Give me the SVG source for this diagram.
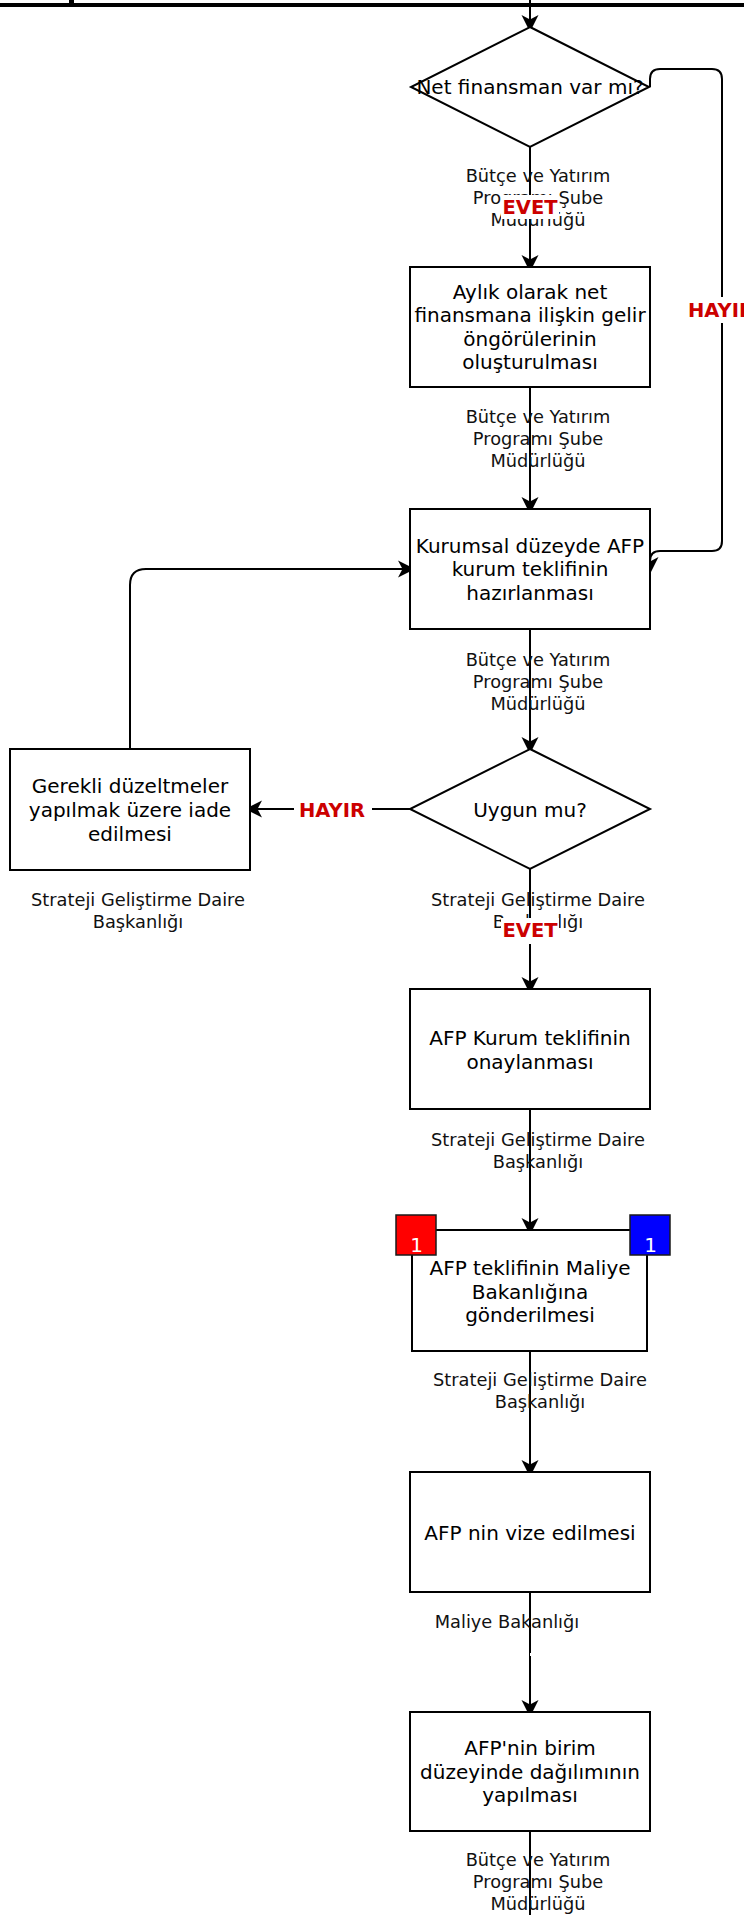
<svg xmlns="http://www.w3.org/2000/svg" width="744" height="1915" viewBox="0 0 744 1915">
<style>
.shape{fill:#fff;stroke:#000;stroke-width:2}
.t{font-family:"DejaVu Sans","Liberation Sans",sans-serif;font-size:20px;fill:#000;text-anchor:middle}
.el{font-family:"DejaVu Sans","Liberation Sans",sans-serif;font-size:17.8px;fill:#111;text-anchor:middle}
.lb{font-family:"DejaVu Sans","Liberation Sans",sans-serif;font-size:19.5px;font-weight:bold;fill:#CC0000;text-anchor:middle}
.conn{fill:none;stroke:#000;stroke-width:2;marker-end:url(#arr)}
.bg{fill:#fff}
.num{font-family:"DejaVu Sans","Liberation Sans",sans-serif;font-size:20px;fill:#fff;text-anchor:middle}
</style>
<defs>
<marker id="arr" markerUnits="userSpaceOnUse" viewBox="-13 -10 20 20" markerWidth="20" markerHeight="20" refX="-5" refY="0" orient="auto">
<path d="M5,0 L-12,-8.5 L-7.5,0 L-12,8.5 Z" fill="#000"/>
</marker>
</defs>
<rect x="0" y="0" width="744" height="1915" fill="#fff"/>
<rect x="0" y="3" width="744" height="4" fill="#000"/>
<rect x="69" y="0" width="5" height="3" fill="#000"/>

<g id="connectors">
<path class="conn" d="M530,0 L530,22"/>
<path class="conn" d="M530,147 L530,262"/>
<path class="conn" d="M530,387 L530,504"/>
<path class="conn" d="M530,629 L530,744"/>
<path class="conn" d="M410,809 L255,809"/>
<path class="conn" d="M130,749 L130,585 Q130,569 146,569 L405,569"/>
<path class="conn" d="M530,869 L530,984"/>
<path class="conn" d="M530,1109 L530,1225"/>
<path class="conn" d="M530,1351 L530,1467"/>
<path class="conn" d="M530,1592 L530,1707"/>
<path fill="none" stroke="#000" stroke-width="2" d="M530,1831 L530,1915"/>
<path class="conn" d="M650,87 L650,79 Q650,69 660,69 L712,69 Q722,69 722,79 L722,541 Q722,551 712,551 L660,551 Q650,551 650,561 L650,564"/>
<rect class="bg" x="530" y="1653" width="2" height="3"/>
<g id="edge-labels">
<text class="el" x="538" y="182">Bütçe ve Yatırım</text>
<text class="el" x="538" y="204">Programı Şube</text>
<text class="el" x="538" y="226">Müdürlüğü</text>
<rect class="bg" x="501" y="195" width="58" height="24"/>
<text class="lb" x="530" y="214">EVET</text>

<rect class="bg" x="686" y="297" width="70" height="26"/>
<text class="lb" x="721" y="317">HAYIR</text>

<text class="el" x="538" y="423">Bütçe ve Yatırım</text>
<text class="el" x="538" y="445">Programı Şube</text>
<text class="el" x="538" y="467">Müdürlüğü</text>

<text class="el" x="538" y="665.5">Bütçe ve Yatırım</text>
<text class="el" x="538" y="687.5">Programı Şube</text>
<text class="el" x="538" y="709.5">Müdürlüğü</text>

<rect class="bg" x="294" y="797" width="78" height="25"/>
<text class="lb" x="332" y="816.5">HAYIR</text>

<text class="el" x="138" y="905.5">Strateji Geliştirme Daire</text>
<text class="el" x="138" y="927.5">Başkanlığı</text>

<text class="el" x="538" y="905.5">Strateji Geliştirme Daire</text>
<text class="el" x="538" y="927.5">Başkanlığı</text>
<rect class="bg" x="501" y="918" width="58" height="26"/>
<text class="lb" x="530" y="937">EVET</text>

<text class="el" x="538" y="1145.5">Strateji Geliştirme Daire</text>
<text class="el" x="538" y="1168">Başkanlığı</text>

<text class="el" x="540" y="1385.5">Strateji Geliştirme Daire</text>
<text class="el" x="540" y="1407.5">Başkanlığı</text>

<text class="el" x="507" y="1627.5">Maliye Bakanlığı</text>

<text class="el" x="538" y="1865.5">Bütçe ve Yatırım</text>
<text class="el" x="538" y="1887.5">Programı Şube</text>
<text class="el" x="538" y="1909.5">Müdürlüğü</text>
</g>
</g>

<g id="d1">
<path class="shape" d="M530,27 L649,87 L530,147 L411,87 Z"/>
<text class="t" x="530" y="94">Net finansman var mı?</text>
</g>

<g id="b1">
<rect class="shape" x="410" y="267" width="240" height="120"/>
<text class="t" x="530" y="298.5">Aylık olarak net</text>
<text class="t" x="530" y="322">finansmana ilişkin gelir</text>
<text class="t" x="530" y="345.5">öngörülerinin</text>
<text class="t" x="530" y="369">oluşturulması</text>
</g>

<g id="b2">
<rect class="shape" x="410" y="509" width="240" height="120"/>
<text class="t" x="530" y="552.5">Kurumsal düzeyde AFP</text>
<text class="t" x="530" y="576">kurum teklifinin</text>
<text class="t" x="530" y="599.5">hazırlanması</text>
</g>

<g id="d2">
<path class="shape" d="M530,749 L650,809 L530,869 L410,809 Z"/>
<text class="t" x="530" y="816.5">Uygun mu?</text>
</g>

<g id="left">
<rect class="shape" x="10" y="749" width="240" height="121"/>
<text class="t" x="130" y="793">Gerekli düzeltmeler</text>
<text class="t" x="130" y="817">yapılmak üzere iade</text>
<text class="t" x="130" y="841">edilmesi</text>
</g>

<g id="b3">
<rect class="shape" x="410" y="989" width="240" height="120"/>
<text class="t" x="530" y="1045">AFP Kurum teklifinin</text>
<text class="t" x="530" y="1069">onaylanması</text>
</g>

<g id="b4">
<rect class="shape" x="412" y="1230" width="235" height="121"/>
<text class="t" x="530" y="1275">AFP teklifinin Maliye</text>
<text class="t" x="530" y="1298.5">Bakanlığına</text>
<text class="t" x="530" y="1322">gönderilmesi</text>
<rect x="396" y="1215" width="40" height="40" fill="#FF0000" stroke="#1a1a1a" stroke-width="1.5"/>
<text class="num" x="416.5" y="1252">1</text>
<rect x="630" y="1215" width="40" height="40" fill="#0000FF" stroke="#1a1a1a" stroke-width="1.5"/>
<text class="num" x="650.5" y="1252">1</text>
</g>

<g id="b5">
<rect class="shape" x="410" y="1472" width="240" height="120"/>
<text class="t" x="530" y="1540">AFP nin vize edilmesi</text>
</g>

<g id="b6">
<rect class="shape" x="410" y="1712" width="240" height="119"/>
<text class="t" x="530" y="1755">AFP'nin birim</text>
<text class="t" x="530" y="1778.5">düzeyinde dağılımının</text>
<text class="t" x="530" y="1802">yapılması</text>
</g>
</svg>
